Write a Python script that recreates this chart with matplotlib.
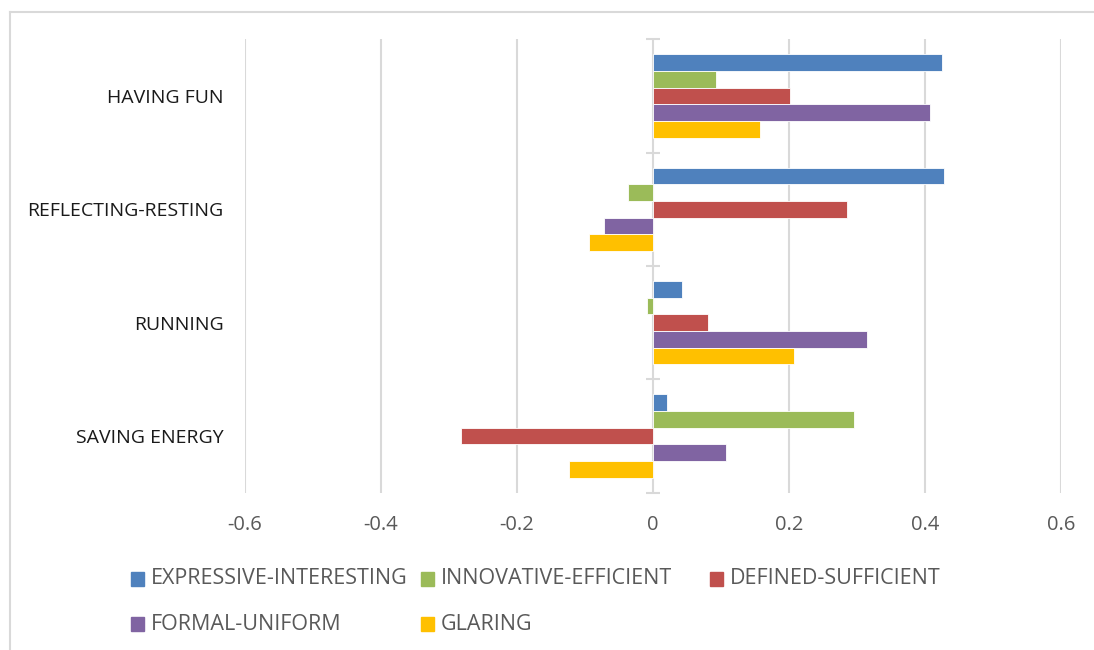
import matplotlib
matplotlib.use("Agg")
import matplotlib.pyplot as plt
from matplotlib.patches import Rectangle
from matplotlib.lines import Line2D
import numpy as np

categories = ["HAVING FUN", "REFLECTING-RESTING", "RUNNING", "SAVING ENERGY"]
series_names = ["EXPRESSIVE-INTERESTING", "INNOVATIVE-EFFICIENT", "DEFINED-SUFFICIENT",
                "FORMAL-UNIFORM", "GLARING"]
expressive = [0.425, 0.428, 0.043, 0.020]
innovative = [0.092, -0.037, -0.009, 0.295]
defined = [0.202, 0.286, 0.081, -0.282]
formal = [0.408, -0.072, 0.315, 0.108]
glaring = [0.158, -0.094, 0.207, -0.123]
x_ticks = [-0.6, -0.4, -0.2, 0, 0.2, 0.4, 0.6]
x_ticklabels = ["-0.6", "-0.4", "-0.2", "0", "0.2", "0.4", "0.6"]

colors = ["#4F81BD", "#9BBB59", "#C0504D", "#8064A2", "#FFC000"]
all_series = [expressive, innovative, defined, formal, glaring]

plt.rcParams['font.family'] = ['Open Sans', 'DejaVu Sans']

W, H = 1094, 650
fig = plt.figure(figsize=(W / 100, H / 100), dpi=100)
ax = fig.add_axes([245 / W, 1 - 492.7 / H, (1061 - 245) / W, (492.7 - 39.3) / H])

n = len(all_series)
bar_h = 0.147
y = np.arange(len(categories))
for i, (vals, c) in enumerate(zip(all_series, colors)):
    ax.barh(y + (i - (n - 1) / 2) * bar_h, vals, height=bar_h, color=c,
            edgecolor="white", linewidth=0.6, zorder=3)

ax.set_xlim(-0.6, 0.6)
ax.set_ylim(len(categories) - 0.5, -0.5)
ax.set_xticks(x_ticks)
ax.set_xticklabels(x_ticklabels)
ax.set_yticks(y)
ax.set_yticklabels(categories)
ax.tick_params(axis='x', length=0, pad=16, labelsize=14.5, labelcolor="#595959")
ax.tick_params(axis='y', length=0, pad=15.5, labelsize=14, labelcolor="#1a1a1a")
ax.grid(axis='x', color="#d9d9d9", linewidth=1.5, zorder=0)
for s in ax.spines.values():
    s.set_visible(False)

# zero axis with category boundary ticks
sec = ax.secondary_yaxis(0.5)
sec.set_yticks(np.arange(len(categories) + 1) - 0.5)
sec.set_yticklabels([])
sec.tick_params(axis='y', direction='inout', length=10, width=1.5, color="#d9d9d9")
sec.spines['right'].set_visible(False)
sec.spines['left'].set_color("#d9d9d9")
sec.spines['left'].set_linewidth(1.5)
sec.set_zorder(4)

# legend (Excel-style fixed grid)
leg_pos = [(131, 579), (421, 579), (710, 579), (131, 624), (421, 624)]
for (px, py), name, c in zip(leg_pos, series_names, colors):
    fig.patches.append(Rectangle((px / W, 1 - (py + 7) / H), 13 / W, 14 / H,
                                 transform=fig.transFigure, color=c))
    fig.text((px + 20) / W, 1 - py / H, name, ha='left', va='center',
             fontsize=15.5, color="#595959")

# outer border
fig.add_artist(Line2D([10 / W, 1], [1 - 12 / H, 1 - 12 / H], transform=fig.transFigure,
                      color="#d9d9d9", linewidth=1.5))
fig.add_artist(Line2D([10 / W, 10 / W], [0, 1 - 12 / H], transform=fig.transFigure,
                      color="#d9d9d9", linewidth=1.5))

fig.savefig("out.png", dpi=100)
